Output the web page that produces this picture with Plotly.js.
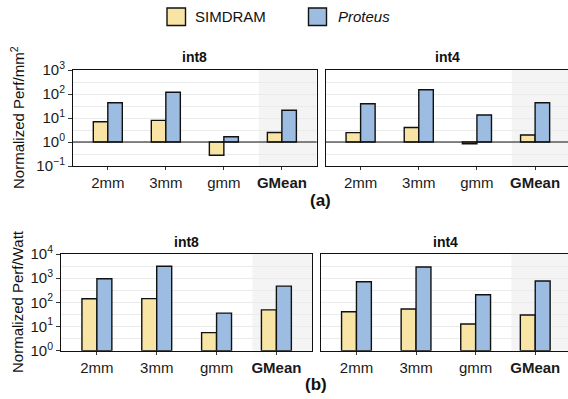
<!DOCTYPE html>
<html>
<head>
<meta charset="utf-8">
<script src="https://cdn.plot.ly/plotly-3.0.1.min.js"></script>
<style>
html, body { margin: 0; padding: 0; overflow: hidden; background: #fff; width: 568px; height: 399px; }
#chart { width: 572px; height: 399px; }
</style>
</head>
<body>
<div id="chart"></div>
<script>
// ---- data ----
const categories = ['2mm', '3mm', 'gmm', 'GMean'];
const tickLabels = ['2mm', '3mm', 'gmm', '<b>GMean</b>'];
const seriesNames = ['SIMDRAM', 'Proteus'];

const areaInt8SIMDRAM = [7.0, 8.0, 0.28, 2.5];
const areaInt8Proteus = [43, 118, 1.66, 21];
const areaInt4SIMDRAM = [2.45, 4.0, 0.85, 1.96];
const areaInt4Proteus = [39, 150, 13.3, 43];

const wattInt8SIMDRAM = [141, 143, 5.6, 49];
const wattInt8Proteus = [950, 3100, 36, 470];
const wattInt4SIMDRAM = [41, 53, 12.7, 30];
const wattInt4Proteus = [710, 2900, 206, 760];

const areaTickVals = [0.1, 1, 10, 100, 1000];
const areaTickText = ['10<sup>\u22121</sup>', '10<sup>0</sup>', '10<sup>1</sup>', '10<sup>2</sup>', '10<sup>3</sup>'];
const wattTickVals = [1, 10, 100, 1000, 10000];
const wattTickText = ['10<sup>0</sup>', '10<sup>1</sup>', '10<sup>2</sup>', '10<sup>3</sup>', '10<sup>4</sup>'];

// ---- style ----
const W = 572, H = 399;
const colors = {SIMDRAM: '#f8e5a6', Proteus: '#9cbde1'};
const FONT = 'Liberation Sans, Arial, Helvetica, sans-serif';
const px = v => v / W;
const py = v => 1 - v / H;

function bars(vals, name, xa, ya) {
  return {
    type: 'bar', x: categories, y: vals.map(v => v - 1), base: 1,
    xaxis: xa, yaxis: ya, name: name, showlegend: false,
    marker: {color: colors[name], line: {color: '#111', width: 1.4}},
    hoverinfo: 'skip'
  };
}

const data = [
  bars(areaInt8SIMDRAM, 'SIMDRAM', 'x', 'y'),
  bars(areaInt8Proteus, 'Proteus', 'x', 'y'),
  bars(areaInt4SIMDRAM, 'SIMDRAM', 'x2', 'y2'),
  bars(areaInt4Proteus, 'Proteus', 'x2', 'y2'),
  bars(wattInt8SIMDRAM, 'SIMDRAM', 'x3', 'y3'),
  bars(wattInt8Proteus, 'Proteus', 'x3', 'y3'),
  bars(wattInt4SIMDRAM, 'SIMDRAM', 'x4', 'y4'),
  bars(wattInt4Proteus, 'Proteus', 'x4', 'y4')
];

function xAxis(domain, anchor) {
  return {
    domain: domain, anchor: anchor, type: 'category',
    categoryorder: 'array', categoryarray: categories,
    tickmode: 'array', tickvals: categories, ticktext: tickLabels,
    range: [-0.6, 3.6], fixedrange: true,
    showline: true, mirror: true, linecolor: '#111', linewidth: 1,
    ticks: 'outside', ticklen: 3, tickcolor: '#333', tickwidth: 1,
    showgrid: false, zeroline: false,
    tickfont: {family: FONT, size: 15, color: '#1a1a1a'}
  };
}
function halfDecades(lo, hi) {
  const out = [];
  for (let e = lo; e < hi; e++) out.push(Math.pow(10, e + 0.5));
  return out;
}
function yAxis(domain, anchor, vals, text, logRange, showLabels) {
  return {
    domain: domain, anchor: anchor, type: 'log', range: logRange, fixedrange: true,
    tickmode: 'array', tickvals: vals, ticktext: text, showticklabels: showLabels,
    ticks: showLabels ? 'outside' : '', ticklen: 4, tickcolor: '#333', tickwidth: 1,
    showline: true, mirror: true, linecolor: '#111', linewidth: 1,
    showgrid: true, gridcolor: '#ebebeb', gridwidth: 1, zeroline: false,
    minor: {tickmode: 'array', tickvals: halfDecades(logRange[0], logRange[1]), showgrid: true, gridcolor: '#ebebeb', gridwidth: 1, ticks: ''},
    tickfont: {family: FONT, size: 15, color: '#1a1a1a'}
  };
}

const topY = [py(166), py(70)];
const botY = [py(350.7), py(254)];
const dTL = [px(73), px(316.7)];
const dTR = [px(325.7), px(570)];
const dBL = [px(61), px(312.3)];
const dBR = [px(320.7), px(571)];

const shapes = [];
// GMean shading
[['x', 'y'], ['x2', 'y2'], ['x3', 'y3'], ['x4', 'y4']].forEach(([xa, ya]) => {
  shapes.push({type: 'rect', xref: xa, yref: ya + ' domain', x0: 2.6, x1: 3.6, y0: 0, y1: 1,
    fillcolor: '#f4f4f4', line: {width: 0}, layer: 'below'});
});
// reference line at 1 in (a)
[['x', 'y'], ['x2', 'y2']].forEach(([xa, ya]) => {
  shapes.push({type: 'line', xref: xa + ' domain', yref: ya, x0: 0, x1: 1, y0: 1, y1: 1,
    line: {color: '#111', width: 1}, layer: 'above'});
});
// legend keys
const legendKeys = [[167, 185.5], [308.5, 326.5]];
seriesNames.forEach((n, i) => {
  shapes.push({type: 'rect', xref: 'paper', yref: 'paper',
    x0: px(legendKeys[i][0]), x1: px(legendKeys[i][1]), y0: py(25.5), y1: py(8),
    fillcolor: colors[n], line: {color: '#111', width: 1.4}});
});

const annotations = [
  {text: 'SIMDRAM', x: px(193), y: py(17), xanchor: 'left', yanchor: 'middle'},
  {text: '<i>Proteus</i>', x: px(336), y: py(17), xanchor: 'left', yanchor: 'middle'},
  {text: '<b>int8</b>', x: (dTL[0] + dTL[1]) / 2, y: py(57), size: 14},
  {text: '<b>int4</b>', x: (dTR[0] + dTR[1]) / 2, y: py(57), size: 14},
  {text: '<b>int8</b>', x: (dBL[0] + dBL[1]) / 2, y: py(242), size: 14},
  {text: '<b>int4</b>', x: (dBR[0] + dBR[1]) / 2, y: py(242), size: 14},
  {text: '<b>(a)</b>', x: px(320), y: py(200), size: 17},
  {text: '<b>(b)</b>', x: px(316), y: py(384), size: 17},
  {text: 'Normalized Perf/mm<sup>2</sup>', x: px(17), y: py(118), textangle: -90, size: 15},
  {text: 'Normalized Perf/Watt', x: px(17), y: py(302), textangle: -90, size: 15}
].map(a => ({
  text: a.text, x: a.x, y: a.y, xref: 'paper', yref: 'paper', showarrow: false,
  xanchor: a.xanchor || 'center', yanchor: a.yanchor || 'middle', textangle: a.textangle || 0,
  font: {family: FONT, size: a.size || 15, color: '#111'}
}));

const layout = {
  width: W, height: H, margin: {l: 0, r: 0, t: 0, b: 0},
  paper_bgcolor: '#fff', plot_bgcolor: 'rgba(0,0,0,0)',
  barmode: 'group', bargap: 0.5, bargroupgap: 0,
  showlegend: false,
  xaxis: xAxis(dTL, 'y'),
  xaxis2: xAxis(dTR, 'y2'),
  xaxis3: xAxis(dBL, 'y3'),
  xaxis4: xAxis(dBR, 'y4'),
  yaxis: yAxis(topY, 'x', areaTickVals, areaTickText, [-1, 3], true),
  yaxis2: yAxis(topY, 'x2', areaTickVals, areaTickText, [-1, 3], false),
  yaxis3: yAxis(botY, 'x3', wattTickVals, wattTickText, [0, 4], true),
  yaxis4: yAxis(botY, 'x4', wattTickVals, wattTickText, [0, 4], false),
  shapes: shapes,
  annotations: annotations
};

Plotly.newPlot('chart', data, layout, {staticPlot: true, displayModeBar: false});
</script>
</body>
</html>
